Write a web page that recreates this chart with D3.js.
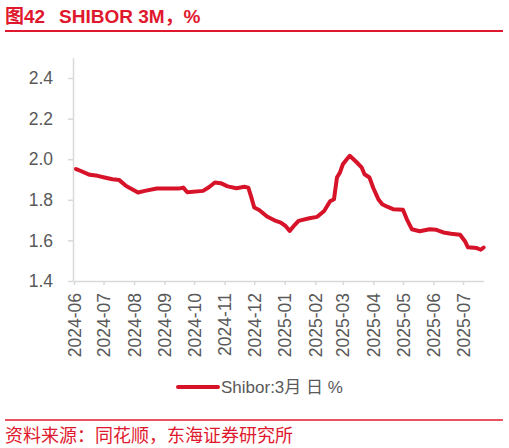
<!DOCTYPE html>
<html>
<head>
<meta charset="utf-8">
<script src="https://cdn.jsdelivr.net/npm/d3@7"></script>
<style>
  html, body { margin: 0; padding: 0; background: #fff; }
  svg { display: block; font-family: "Liberation Sans", Arial, "Noto Sans CJK SC", sans-serif; }
</style>
</head>
<body>
<div id="chart"></div>
<script>
// SHIBOR 3M, %
var dates = ["2024-06-03","2024-06-05","2024-06-17","2024-06-25","2024-07-02","2024-07-10","2024-07-17",
             "2024-07-24","2024-08-05","2024-08-12","2024-08-24","2024-09-14","2024-09-17","2024-09-20",
             "2024-09-24","2024-10-10","2024-10-16","2024-10-22","2024-10-28","2024-11-04","2024-11-13",
             "2024-11-21","2024-11-25","2024-11-28","2024-12-01","2024-12-06","2024-12-14","2024-12-23",
             "2024-12-28","2025-01-02","2025-01-06","2025-01-10","2025-01-15","2025-01-26","2025-02-03",
             "2025-02-10","2025-02-16","2025-02-20","2025-02-23","2025-02-26","2025-03-01","2025-03-05",
             "2025-03-08","2025-03-15","2025-03-20","2025-03-23","2025-03-28","2025-04-01","2025-04-06",
             "2025-04-10","2025-04-15","2025-04-21","2025-05-01","2025-05-05","2025-05-10","2025-05-18",
             "2025-05-28","2025-06-04","2025-06-11","2025-06-19","2025-06-28","2025-07-03","2025-07-06",
             "2025-07-15","2025-07-19","2025-07-22"];
var values = [1.951,1.948,1.923,1.918,1.910,1.901,1.897,
              1.868,1.836,1.844,1.856,1.856,1.857,1.860,
              1.837,1.844,1.862,1.885,1.882,1.866,1.857,
              1.864,1.860,1.813,1.762,1.750,1.718,1.696,
              1.688,1.670,1.647,1.670,1.696,1.709,1.716,
              1.745,1.793,1.803,1.910,1.934,1.975,2.000,
              2.017,1.985,1.960,1.926,1.910,1.857,1.803,
              1.778,1.766,1.754,1.751,1.704,1.655,1.645,
              1.655,1.652,1.639,1.633,1.628,1.596,1.566,
              1.562,1.554,1.565];
var yTicks = [1.4, 1.6, 1.8, 2.0, 2.2, 2.4];
var xDomain = ["2024-06-01", "2025-07-22"];
var seriesName = "Shibor:3月 日 %";
var titleNo = "图42", titleText = "SHIBOR 3M，%";
var sourceText = "资料来源：同花顺，东海证券研究所";

var W = 509, H = 448;
var RED = "#e0182d", LINE = "#d7132a", GREY = "#595959", AXIS = "#d9d9d9";
var parse = d3.timeParse("%Y-%m-%d");

var svg = d3.select("#chart").append("svg")
    .attr("width", W).attr("height", H);

// title and rules
var title = svg.append("text")
    .attr("y", 23)
    .attr("fill", RED)
    .attr("font-size", 19).attr("font-weight", "bold");
title.append("tspan").attr("x", 5).text(titleNo);
title.append("tspan").attr("x", 59).text(titleText);
svg.append("line").attr("x1", 5).attr("x2", 503).attr("y1", 31).attr("y2", 31)
    .attr("stroke", RED).attr("stroke-width", 2);
svg.append("line").attr("x1", 5).attr("x2", 503).attr("y1", 420).attr("y2", 420)
    .attr("stroke", RED).attr("stroke-width", 1.5);
svg.append("text")
    .attr("x", 5).attr("y", 442)
    .attr("fill", RED).attr("font-size", 18)
    .text(sourceText);

// scales
var x = d3.scaleTime().domain(xDomain.map(parse)).range([74, 483.7]);
var y = d3.scaleLinear().domain([1.4, 2.5]).range([281, 57.7]);

// y axis
var gy = svg.append("g").attr("transform", "translate(73,0)")
    .call(d3.axisLeft(y).tickValues(yTicks).tickFormat(d3.format(".1f"))
          .tickSizeInner(5).tickSizeOuter(0).tickPadding(15));
gy.select(".domain").attr("stroke", AXIS).attr("stroke-width", 1.5);
gy.selectAll(".tick line").attr("stroke", AXIS).attr("stroke-width", 1.5);
gy.selectAll(".tick text").attr("fill", GREY).attr("font-size", 17.5)
    .attr("font-family", "Liberation Sans, Arial, sans-serif");

// x axis
var gx = svg.append("g").attr("transform", "translate(0,281)")
    .call(d3.axisBottom(x).ticks(d3.timeMonth.every(1)).tickFormat(d3.timeFormat("%Y-%m"))
          .tickSizeInner(4).tickSizeOuter(0));
gx.select(".domain").attr("stroke", AXIS).attr("stroke-width", 1.5);
gx.selectAll(".tick line").attr("stroke", AXIS).attr("stroke-width", 1.5);
gx.selectAll(".tick text")
    .attr("fill", GREY).attr("font-size", 17.5)
    .attr("font-family", "Liberation Sans, Arial, sans-serif")
    .attr("text-anchor", "end")
    .attr("transform", "rotate(-90)")
    .attr("x", -12).attr("y", 0).attr("dy", "0.35em");

// series
var points = dates.map(function(d, i){ return {date: parse(d), value: values[i]}; });
var line = d3.line()
    .x(function(d){ return x(d.date); })
    .y(function(d){ return y(d.value); });
svg.append("path")
    .datum(points)
    .attr("d", line)
    .attr("fill", "none")
    .attr("stroke", LINE)
    .attr("stroke-width", 4)
    .attr("stroke-linejoin", "round")
    .attr("stroke-linecap", "round");

// legend
var lg = svg.append("g").attr("transform", "translate(178,387)");
lg.append("line").attr("x1", 0).attr("x2", 40).attr("y1", 0).attr("y2", 0)
    .attr("stroke", LINE).attr("stroke-width", 4).attr("stroke-linecap", "round");
lg.append("text").attr("x", 43).attr("y", 0).attr("dy", "0.35em")
    .attr("fill", GREY).attr("font-size", 17)
    .text(seriesName);
</script>
</body>
</html>
